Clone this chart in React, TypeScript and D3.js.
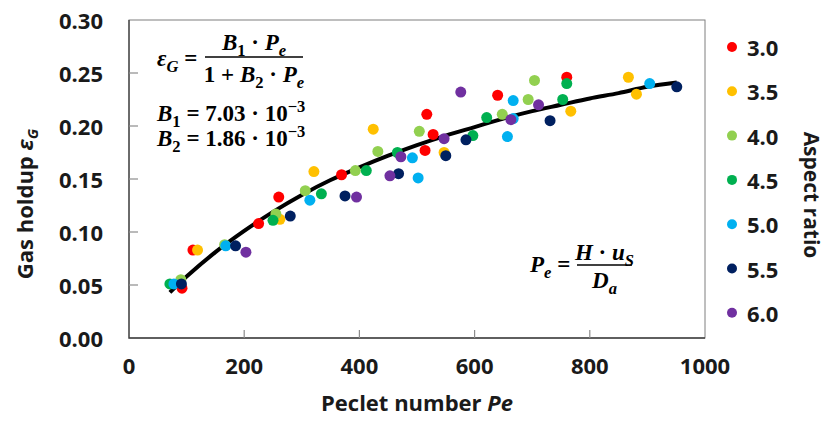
import { useEffect, useRef } from "react";
import * as d3 from "d3";

// Aspect ratio series (legend order)
const aspectRatios = ["3.0", "3.5", "4.0", "4.5", "5.0", "5.5", "6.0"];
const seriesColors = ["#FF0000", "#FFC000", "#92D050", "#00B050", "#00B0F0", "#002060", "#7030A0"];

// Peclet number / gas holdup per aspect ratio
const pe30 = [92, 111, 225, 260, 369, 514, 517, 528, 640, 760];
const eg30 = [0.047, 0.083, 0.108, 0.133, 0.154, 0.177, 0.211, 0.192, 0.229, 0.246];
const pe35 = [119, 262, 321, 424, 547, 767, 867, 881];
const eg35 = [0.083, 0.112, 0.157, 0.197, 0.175, 0.214, 0.246, 0.230];
const pe40 = [90, 166, 255, 306, 393, 432, 504, 648, 693, 704];
const eg40 = [0.055, 0.088, 0.117, 0.139, 0.158, 0.176, 0.195, 0.211, 0.225, 0.243];
const pe45 = [71, 250, 334, 412, 466, 597, 621, 753, 760];
const eg45 = [0.051, 0.111, 0.136, 0.158, 0.175, 0.191, 0.208, 0.225, 0.240];
const pe50 = [78, 168, 314, 492, 502, 657, 667, 667, 904];
const eg50 = [0.051, 0.087, 0.130, 0.170, 0.151, 0.190, 0.207, 0.224, 0.240];
const pe55 = [91, 185, 280, 375, 468, 550, 585, 731, 951];
const eg55 = [0.051, 0.087, 0.115, 0.134, 0.155, 0.172, 0.187, 0.205, 0.237];
const pe60 = [203, 395, 453, 472, 547, 576, 663, 711];
const eg60 = [0.081, 0.133, 0.153, 0.171, 0.188, 0.232, 0.206, 0.220];

const seriesPe = [pe30, pe35, pe40, pe45, pe50, pe55, pe60];
const seriesEg = [eg30, eg35, eg40, eg45, eg50, eg55, eg60];

// Fitted curve
const fitPe = [71, 100, 150, 200, 250, 300, 350, 400, 450, 500, 550, 600, 650, 700, 750, 800, 850, 900, 951];
const fitEg = [0.043, 0.058, 0.081, 0.101, 0.119, 0.135, 0.149, 0.161, 0.172, 0.182, 0.191, 0.199, 0.207, 0.214, 0.220, 0.226, 0.231, 0.237, 0.241];

const xTicks = [0, 200, 400, 600, 800, 1000];
const yTicks = [0, 0.05, 0.1, 0.15, 0.2, 0.25, 0.3];

type Seg = { t: string; i?: boolean; sub?: boolean; sup?: boolean };

const Chart = () => {
  const ref = useRef<SVGSVGElement | null>(null);

  useEffect(() => {
    if (!ref.current) return;
    const svg = d3.select(ref.current);
    svg.selectAll("*").remove();

    const left = 129, right = 705, top = 20, bottom = 338;
    const x = d3.scaleLinear().domain([0, 1000]).range([left, right]);
    const y = d3.scaleLinear().domain([0, 0.3]).range([bottom, top]);

    const font = "'Open Sans', sans-serif";
    const tickSize = 22;

    // plot frame
    svg.append("rect")
      .attr("x", left).attr("y", top)
      .attr("width", right - left).attr("height", bottom - top)
      .attr("fill", "none").attr("stroke", "#7f7f7f").attr("stroke-width", 1);
    svg.append("path")
      .attr("d", `M${left},${top}V${bottom}H${right}`)
      .attr("fill", "none").attr("stroke", "#404040").attr("stroke-width", 1.3);

    // inward ticks
    svg.append("g").selectAll("line")
      .data(yTicks.slice(1, -1)).enter().append("line")
      .attr("x1", left).attr("x2", left + 9)
      .attr("y1", (d) => y(d)).attr("y2", (d) => y(d))
      .attr("stroke", "#8c8c8c").attr("stroke-width", 1.2);
    svg.append("g").selectAll("line")
      .data(xTicks.slice(1, -1)).enter().append("line")
      .attr("x1", (d) => x(d)).attr("x2", (d) => x(d))
      .attr("y1", bottom).attr("y2", bottom - 8)
      .attr("stroke", "#8c8c8c").attr("stroke-width", 1.2);

    // tick labels
    svg.append("g").selectAll("text")
      .data(yTicks).enter().append("text")
      .attr("x", 103).attr("y", (d) => y(d))
      .attr("text-anchor", "end").attr("dominant-baseline", "central")
      .style("font-family", font).style("font-weight", "bold").style("font-size", tickSize + "px")
      .style("fill", "#1a1a1a")
      .text((d) => d3.format(".2f")(d));
    svg.append("g").selectAll("text")
      .data(xTicks).enter().append("text")
      .attr("x", (d) => x(d)).attr("y", 365)
      .attr("text-anchor", "middle").attr("dominant-baseline", "central")
      .style("font-family", font).style("font-weight", "bold").style("font-size", tickSize + "px")
      .style("fill", "#1a1a1a")
      .text((d) => String(d));

    // axis titles
    const xt = svg.append("text")
      .attr("x", (left + right) / 2).attr("y", 411)
      .attr("text-anchor", "middle")
      .style("font-family", font).style("font-weight", "bold").style("font-size", "22px")
      .style("fill", "#1a1a1a");
    xt.append("tspan").text("Peclet number ");
    xt.append("tspan").style("font-style", "italic").text("Pe");

    const yt = svg.append("text")
      .attr("transform", "translate(33,204) rotate(-90)")
      .attr("text-anchor", "middle")
      .style("font-family", font).style("font-weight", "bold").style("font-size", "22px")
      .style("fill", "#1a1a1a");
    yt.append("tspan").text("Gas holdup ");
    yt.append("tspan").style("font-style", "italic").text("ε");
    yt.append("tspan").attr("dy", 5).style("font-style", "italic").style("font-size", "15px").text("G");

    svg.append("text")
      .attr("transform", "translate(804,195) rotate(90)")
      .attr("text-anchor", "middle")
      .style("font-family", font).style("font-weight", "bold").style("font-size", "21px")
      .style("fill", "#1a1a1a")
      .text("Aspect ratio");

    // fitted curve
    const line = d3.line<number>()
      .x((d, i) => x(fitPe[i]))
      .y((d) => y(d))
      .curve(d3.curveCatmullRom);
    svg.append("path")
      .datum(fitEg)
      .attr("d", line)
      .attr("fill", "none").attr("stroke", "#000").attr("stroke-width", 4);

    // points
    seriesPe.forEach((pes, s) => {
      svg.append("g").selectAll("circle")
        .data(pes).enter().append("circle")
        .attr("cx", (d) => x(d))
        .attr("cy", (d, i) => y(seriesEg[s][i]))
        .attr("r", 5.5)
        .attr("fill", seriesColors[s]);
    });

    // legend
    const lg = svg.append("g").selectAll("g")
      .data(aspectRatios).enter().append("g")
      .attr("transform", (d, i) => `translate(732,${47 + i * 44.3})`);
    lg.append("circle").attr("r", 5).attr("fill", (d, i) => seriesColors[i]);
    lg.append("text")
      .attr("x", 15).attr("dominant-baseline", "central")
      .style("font-family", font).style("font-weight", "bold").style("font-size", tickSize + "px")
      .style("fill", "#1a1a1a")
      .text((d) => d);

    // equations
    const mfs = 23;
    const math = (segs: Seg[], px: number, py: number, anchor: string) => {
      const t = svg.append("text")
        .attr("x", px).attr("y", py).attr("text-anchor", anchor)
        .style("font-family", "'Liberation Serif', serif").style("font-weight", "bold")
        .style("font-size", mfs + "px").style("white-space", "pre").style("fill", "#000");
      let shift = 0;
      segs.forEach((sg) => {
        const target = sg.sub ? mfs * 0.25 : sg.sup ? -mfs * 0.38 : 0;
        t.append("tspan")
          .attr("dy", target - shift)
          .style("font-style", sg.i ? "italic" : "normal")
          .style("font-size", (sg.sub || sg.sup ? mfs * 0.72 : mfs) + "px")
          .text(sg.t);
        shift = target;
      });
    };

    math([{ t: "ε", i: true }, { t: "G", i: true, sub: true }, { t: " =" }], 157, 66, "start");
    svg.append("line").attr("x1", 205).attr("x2", 303).attr("y1", 57).attr("y2", 57)
      .attr("stroke", "#000").attr("stroke-width", 1.5);
    math([{ t: "B", i: true }, { t: "1", sub: true }, { t: " · " }, { t: "P", i: true }, { t: "e", i: true, sub: true }], 254, 50, "middle");
    math([{ t: "1 + " }, { t: "B", i: true }, { t: "2", sub: true }, { t: " · " }, { t: "P", i: true }, { t: "e", i: true, sub: true }], 254, 82, "middle");
    math([{ t: "B", i: true }, { t: "1", sub: true }, { t: " = 7.03 · 10" }, { t: "−3", sup: true }], 157, 121, "start");
    math([{ t: "B", i: true }, { t: "2", sub: true }, { t: " = 1.86 · 10" }, { t: "−3", sup: true }], 157, 146, "start");

    math([{ t: "P", i: true }, { t: "e", i: true, sub: true }, { t: " =" }], 530, 272, "start");
    svg.append("line").attr("x1", 577).attr("x2", 632).attr("y1", 265).attr("y2", 265)
      .attr("stroke", "#000").attr("stroke-width", 1.5);
    math([{ t: "H", i: true }, { t: " · " }, { t: "u", i: true }, { t: "S", i: true, sub: true }], 604.5, 260, "middle");
    math([{ t: "D", i: true }, { t: "a", i: true, sub: true }], 604.5, 288, "middle");
  }, []);

  return (
    <svg ref={ref} width={825} height={423}
      style={{ position: "absolute", left: 0, top: 0, background: "#fff" }} />
  );
};

export default function App() {
  return <Chart />;
}
